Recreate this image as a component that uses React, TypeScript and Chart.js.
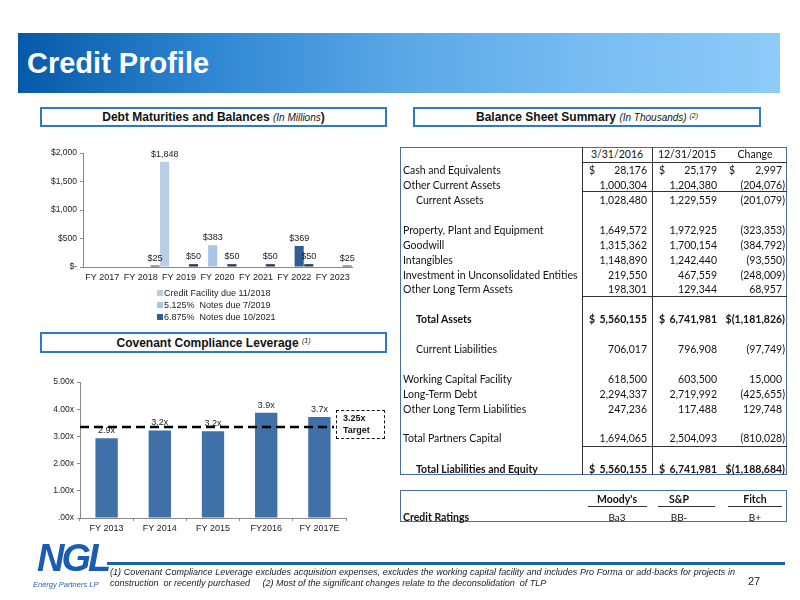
import React, { useEffect, useRef } from "react";
import { Chart, registerables } from "chart.js";

Chart.register(...registerables);

// ---------- Debt maturities (in millions) ----------
const debtYears = ["FY 2017", "FY 2018", "FY 2019", "FY 2020", "FY 2021", "FY 2022", "FY 2023"];
const creditFacility = [null, null, 1848, null, null, null, null];
const notes5125 = [null, null, null, 383, null, null, null];
const notes6875 = [null, null, null, null, null, 369, null];
const amortization = [null, 25, 50, 50, 50, 50, 25];
const debtLegend = ["Credit Facility due 11/2018", "5.125%  Notes due 7/2019", "6.875%  Notes due 10/2021"];

// ---------- Covenant compliance leverage ----------
const levYears = ["FY 2013", "FY 2014", "FY 2015", "FY2016", "FY 2017E"];
const leverage = [2.93, 3.22, 3.19, 3.87, 3.71];
const leverageLabels = ["2.9x", "3.2x", "3.2x", "3.9x", "3.7x"];
const targetLevel = 3.35;
const targetText = ["3.25x", "Target"];

// ---------- Balance sheet (in thousands) ----------
const bsHeaders = ["3/31/2016", "12/31/2015", "Change"];
const bsLabels = [
  "Cash and Equivalents",
  "Other Current Assets",
  "Current Assets",
  "Property, Plant and Equipment",
  "Goodwill",
  "Intangibles",
  "Investment in Unconsolidated Entities",
  "Other Long Term Assets",
  "Total Assets",
  "Current Liabilities",
  "Working Capital Facility",
  "Long-Term Debt",
  "Other Long Term Liabilities",
  "Total Partners Capital",
  "Total Liabilities and Equity",
];
const bs2016 = ["28,176", "1,000,304", "1,028,480", "1,649,572", "1,315,362", "1,148,890", "219,550", "198,301", "5,560,155", "706,017", "618,500", "2,294,337", "247,236", "1,694,065", "5,560,155"];
const bs2015 = ["25,179", "1,204,380", "1,229,559", "1,972,925", "1,700,154", "1,242,440", "467,559", "129,344", "6,741,981", "796,908", "603,500", "2,719,992", "117,488", "2,504,093", "6,741,981"];
const bsChange = ["2,997", "(204,076)", "(201,079)", "(323,353)", "(384,792)", "(93,550)", "(248,009)", "68,957", "(1,181,826)", "(97,749)", "15,000", "(425,655)", "129,748", "(810,028)", "(1,188,684)"];

const ratingAgencies = ["Moody's", "S&P", "Fitch"];
const ratings = ["Ba3", "BB-", "B+"];

// ---------- layout (positions only) ----------
const rowY = [170, 185, 199.5, 230, 244.5, 259.5, 274.5, 289, 319, 349, 379, 394, 409, 438, 469];
const rowIndent = [false, false, true, false, false, false, false, false, true, true, false, false, false, false, true];
const rowBold = [false, false, false, false, false, false, false, false, true, false, false, false, false, false, true];
const rowDollar = [true, false, false, false, false, false, false, false, true, false, false, false, false, false, true];

const ARIAL = "'Liberation Sans', Arial, sans-serif";
const CAL = "Lato, 'Open Sans', sans-serif";

function makeLabelPlugin(fmt: (v: number, di: number, i: number) => string, size: number) {
  return {
    id: "valueLabels",
    afterDatasetsDraw(chart: any) {
      const ctx = chart.ctx;
      ctx.save();
      ctx.font = `${size}px ${ARIAL}`;
      ctx.fillStyle = "#222";
      ctx.textAlign = "center";
      ctx.textBaseline = "bottom";
      chart.data.datasets.forEach((ds: any, di: number) => {
        const meta = chart.getDatasetMeta(di);
        meta.data.forEach((bar: any, i: number) => {
          const v = ds.data[i];
          if (v == null) return;
          ctx.fillText(fmt(v, di, i), bar.x, bar.y - 3);
        });
      });
      ctx.restore();
    },
  };
}

function DebtChart() {
  const ref = useRef<HTMLCanvasElement>(null);
  useEffect(() => {
    const chart = new Chart(ref.current as HTMLCanvasElement, {
      type: "bar",
      data: {
        labels: debtYears,
        datasets: [
          { label: debtLegend[0], data: creditFacility as any, backgroundColor: "#b9cde5" },
          { label: debtLegend[1], data: notes5125 as any, backgroundColor: "#a9c5e6" },
          { label: debtLegend[2], data: notes6875 as any, backgroundColor: "#2f5f97" },
          { label: "Amortization", data: amortization as any, backgroundColor: "#1f3b5e" },
        ],
      },
      options: {
        responsive: false,
        animation: false,
        layout: { padding: { left: 0, right: 8, top: 13, bottom: 3 } },
        plugins: { legend: { display: false }, tooltip: { enabled: false } },
        datasets: { bar: { categoryPercentage: 1, barPercentage: 0.95 } },
        scales: {
          x: {
            grid: { display: false, drawTicks: false, tickLength: 0 },
            border: { color: "#888" },
            ticks: { color: "#222", font: { family: ARIAL, size: 9 }, padding: 5, maxRotation: 0, autoSkip: false },
            afterFit: (s: any) => { s.height = 20; },
          },
          y: {
            min: 0,
            max: 2000,
            ticks: {
              stepSize: 500,
              color: "#222",
              font: { family: ARIAL, size: 8.5 },
              padding: 3,
              callback: (v: any) => (v === 0 ? "$-" : "$" + Number(v).toLocaleString("en-US")),
            },
            grid: { display: true, drawOnChartArea: false, drawTicks: true, tickLength: 3, color: "#888" },
            border: { color: "#888" },
            afterFit: (s: any) => { s.width = 53; },
          },
        },
      },
      plugins: [makeLabelPlugin((v) => "$" + v.toLocaleString("en-US"), 9)],
    });
    return () => chart.destroy();
  }, []);
  return (
    <canvas ref={ref} width={330} height={150}
      style={{ position: "absolute", left: 30, top: 140, width: 330, height: 150 }} />
  );
}

function LeverageChart() {
  const ref = useRef<HTMLCanvasElement>(null);
  useEffect(() => {
    const targetPlugin = {
      id: "target",
      afterDatasetsDraw(chart: any) {
        const { ctx, chartArea, scales } = chart;
        const y = scales.y.getPixelForValue(targetLevel);
        ctx.save();
        ctx.strokeStyle = "#000";
        ctx.lineWidth = 2.5;
        ctx.setLineDash([9, 5]);
        ctx.beginPath();
        ctx.moveTo(chartArea.left, y);
        ctx.lineTo(chartArea.right - 12, y);
        ctx.stroke();
        ctx.restore();
      },
    };
    const chart = new Chart(ref.current as HTMLCanvasElement, {
      type: "bar",
      data: {
        labels: levYears,
        datasets: [{ label: "Leverage", data: leverage, backgroundColor: "#3f70a8" }],
      },
      options: {
        responsive: false,
        animation: false,
        layout: { padding: { left: 0, right: 14, top: 17, bottom: 2 } },
        plugins: { legend: { display: false }, tooltip: { enabled: false } },
        datasets: { bar: { categoryPercentage: 1, barPercentage: 0.42 } },
        scales: {
          x: {
            grid: { display: true, drawOnChartArea: false, drawTicks: true, tickLength: 3, color: "#888" },
            border: { color: "#888" },
            ticks: { color: "#222", font: { family: ARIAL, size: 9 }, padding: 2, maxRotation: 0, autoSkip: false },
            afterFit: (s: any) => { s.height = 20; },
          },
          y: {
            min: 0,
            max: 5,
            ticks: {
              stepSize: 1,
              color: "#222",
              font: { family: ARIAL, size: 8.5 },
              padding: 3,
              callback: (v: any) => (v === 0 ? ".00x" : Number(v).toFixed(2) + "x"),
            },
            grid: { display: true, drawOnChartArea: false, drawTicks: true, tickLength: 3, color: "#888" },
            border: { color: "#888" },
            afterFit: (s: any) => { s.width = 50; },
          },
        },
      },
      plugins: [makeLabelPlugin((v, di, i) => leverageLabels[i], 9), targetPlugin],
    });
    return () => chart.destroy();
  }, []);
  return (
    <canvas ref={ref} width={330} height={175}
      style={{ position: "absolute", left: 30, top: 365, width: 330, height: 175 }} />
  );
}

function TitleBox(props: { left: number; top: number; width: number; height: number; children: any }) {
  const { left, top, width, height, children } = props;
  return (
    <div style={{
      position: "absolute", left, top, width, height, boxSizing: "border-box",
      border: "2px solid #2f78c4", display: "flex", alignItems: "center", justifyContent: "center",
      fontFamily: ARIAL, fontSize: 12, fontWeight: "bold", color: "#111", whiteSpace: "nowrap",
    }}>{children}</div>
  );
}

function Txt(props: { x: number; y: number; text: string; align?: "left" | "right" | "center"; bold?: boolean; size?: number; font?: string; color?: string; italic?: boolean }) {
  const { x, y, text, align = "left", bold, size = 10.5, font = CAL, color = "#111", italic } = props;
  const w = 300;
  const left = align === "left" ? x : align === "right" ? x - w : x - w / 2;
  return (
    <div style={{
      position: "absolute", left, top: y - 7, width: w, height: 14, lineHeight: "14px",
      textAlign: align, fontFamily: font, fontSize: size, fontWeight: bold ? "bold" : "normal",
      fontStyle: italic ? "italic" : "normal", color, whiteSpace: "pre",
    }}>{text}</div>
  );
}

function Line(props: { x1: number; y1: number; x2: number; y2: number; color?: string; w?: number }) {
  const { x1, y1, x2, y2, color = "#222", w = 1 } = props;
  const horizontal = y1 === y2;
  return (
    <div style={{
      position: "absolute",
      left: horizontal ? x1 : x1 - w / 2,
      top: horizontal ? y1 - w / 2 : y1,
      width: horizontal ? x2 - x1 : w,
      height: horizontal ? w : y2 - y1,
      background: color,
    }} />
  );
}

function BalanceTable() {
  const colRight = [647, 717, 782];
  const dollarX = [589, 659, 729];
  const cols = [bs2016, bs2015, bsChange];
  const items: any[] = [];
  items.push(<div key="border" style={{ position: "absolute", left: 400, top: 147, width: 387, height: 328, boxSizing: "border-box", border: "1.3px solid #4a6d9c" }} />);
  items.push(<Line key="v1" x1={582} y1={147} x2={582} y2={475} color="#333" />);
  items.push(<Line key="v2" x1={652} y1={147} x2={652} y2={475} color="#333" />);
  items.push(<Line key="h0" x1={582} y1={162} x2={787} y2={162} color="#333" />);
  items.push(<Line key="h1" x1={582} y1={191.5} x2={787} y2={191.5} color="#333" />);
  items.push(<Line key="h2" x1={582} y1={296} x2={787} y2={296} color="#333" />);
  items.push(<Line key="h3" x1={582} y1={446} x2={787} y2={446} color="#333" />);
  const headerX = [617, 687, 755];
  bsHeaders.forEach((h, i) => items.push(<Txt key={"hd" + i} x={headerX[i]} y={154} text={h} align="center" />));
  bsLabels.forEach((lab, r) => {
    const y = rowY[r];
    const bold = rowBold[r];
    items.push(<Txt key={"l" + r} x={rowIndent[r] ? 416 : 403} y={y} text={lab} bold={bold} />);
    cols.forEach((col, c) => {
      const v = col[r];
      const paren = v.endsWith(")");
      const joinDollar = rowDollar[r] && paren;
      items.push(<Txt key={"c" + r + "_" + c} x={paren ? colRight[c] + 3 : colRight[c]} y={y} text={joinDollar ? "$" + v : v} align="right" bold={bold} />);
      if (rowDollar[r] && !joinDollar) items.push(<Txt key={"d" + r + "_" + c} x={dollarX[c]} y={y} text="$" bold={bold} />);
    });
  });
  return <>{items}</>;
}

function RatingsBox() {
  const cx = [617, 679, 755];
  const ul = [[588, 647], [658, 715], [728, 782]];
  return (
    <>
      <div style={{ position: "absolute", left: 400, top: 490, width: 387, height: 32, boxSizing: "border-box", border: "1.3px solid #4a6d9c" }} />
      {ratingAgencies.map((a, i) => (
        <React.Fragment key={a}>
          <Txt x={cx[i]} y={499} text={a} align="center" bold />
          <Line x1={ul[i][0]} y1={506.5} x2={ul[i][1]} y2={506.5} color="#333" />
          <Txt x={cx[i]} y={516.5} text={ratings[i]} align="center" size={10} />
        </React.Fragment>
      ))}
      <Txt x={403} y={516.5} text="Credit Ratings" bold />
    </>
  );
}

export default function App() {
  const legendColors = ["#b9cde5", "#a9c5e6", "#2f5f97"];
  const legendY = [293, 305, 317];
  return (
    <div style={{ position: "fixed", left: 0, top: 0, width: 800, height: 600, background: "#fff", overflow: "hidden", fontFamily: ARIAL }}>
      {/* Banner */}
      <div style={{
        position: "absolute", left: 18, top: 33, width: 762, height: 60,
        background: "linear-gradient(to right, #0659a8 0%, #2f86d2 25%, #5aa7e6 50%, #78bcf2 75%, #8ecbf9 100%)",
      }} />
      <div style={{ position: "absolute", left: 27, top: 45, fontFamily: ARIAL, fontWeight: "bold", fontSize: 29, color: "#fff", lineHeight: "36px", whiteSpace: "nowrap" }}>
        Credit Profile
      </div>

      {/* Section titles */}
      <TitleBox left={40} top={107} width={347} height={20}>
        <span>Debt Maturities and Balances&nbsp;</span>
        <span style={{ fontStyle: "italic", fontWeight: "normal", fontSize: 10 }}>(In Millions</span>
        <span>)</span>
      </TitleBox>
      <TitleBox left={413} top={107} width={348} height={20}>
        <span>Balance Sheet Summary&nbsp;</span>
        <span style={{ fontStyle: "italic", fontWeight: "normal", fontSize: 10 }}>(In Thousands)&nbsp;</span>
        <sup style={{ fontStyle: "italic", fontWeight: "normal", fontSize: 7, position: "relative", top: -2 }}>(2)</sup>
      </TitleBox>
      <TitleBox left={40} top={332} width={347} height={21}>
        <span>Covenant Compliance Leverage&nbsp;</span>
        <sup style={{ fontStyle: "italic", fontWeight: "normal", fontSize: 7, position: "relative", top: -2 }}>(1)</sup>
      </TitleBox>

      {/* Debt chart */}
      <DebtChart />
      {debtLegend.map((t, i) => (
        <React.Fragment key={t}>
          <div style={{ position: "absolute", left: 157, top: legendY[i] - 3, width: 6, height: 6, background: legendColors[i] }} />
          <div style={{ position: "absolute", left: 164, top: legendY[i] - 6, fontFamily: ARIAL, fontSize: 9, lineHeight: "12px", color: "#222", whiteSpace: "pre" }}>{t}</div>
        </React.Fragment>
      ))}

      {/* Leverage chart */}
      <LeverageChart />
      <div style={{ position: "absolute", left: 336, top: 410, width: 49, height: 29, boxSizing: "border-box", border: "1.5px dashed #111" }} />
      <div style={{ position: "absolute", left: 343, top: 412, fontFamily: ARIAL, fontWeight: "bold", fontSize: 9, lineHeight: "12px", color: "#111" }}>
        {targetText[0]}<br />{targetText[1]}
      </div>

      {/* Balance sheet */}
      <BalanceTable />
      <RatingsBox />

      {/* Footer */}
      <div style={{ position: "absolute", left: 37, top: 536, fontFamily: ARIAL, fontWeight: 900, fontStyle: "italic", fontSize: 38, letterSpacing: -3, color: "#1a5cb0", lineHeight: "44px" }}>NGL</div>
      <div style={{ position: "absolute", left: 33, top: 580, fontFamily: ARIAL, fontStyle: "italic", fontSize: 7.5, color: "#2a62b0", whiteSpace: "nowrap" }}>Energy Partners LP</div>
      <div style={{ position: "absolute", left: 107, top: 562, width: 678, height: 2.5, background: "#1f5fa8" }} />
      <div style={{ position: "absolute", left: 110, top: 567, width: 625, fontFamily: ARIAL, fontStyle: "italic", fontSize: 9, lineHeight: "11px", color: "#222", textAlign: "justify", textAlignLast: "justify" as any, whiteSpace: "normal" }}>
        (1) Covenant Compliance Leverage excludes acquisition expenses, excludes the working capital facility and includes Pro Forma or add-backs for projects in
      </div>
      <div style={{ position: "absolute", left: 110, top: 578, fontFamily: ARIAL, fontStyle: "italic", fontSize: 9, lineHeight: "11px", color: "#222", whiteSpace: "pre" }}>
        construction  or recently purchased     (2) Most of the significant changes relate to the deconsolidation  of TLP
      </div>
      <div style={{ position: "absolute", left: 748, top: 575, fontFamily: ARIAL, fontSize: 11, color: "#222" }}>27</div>
    </div>
  );
}
